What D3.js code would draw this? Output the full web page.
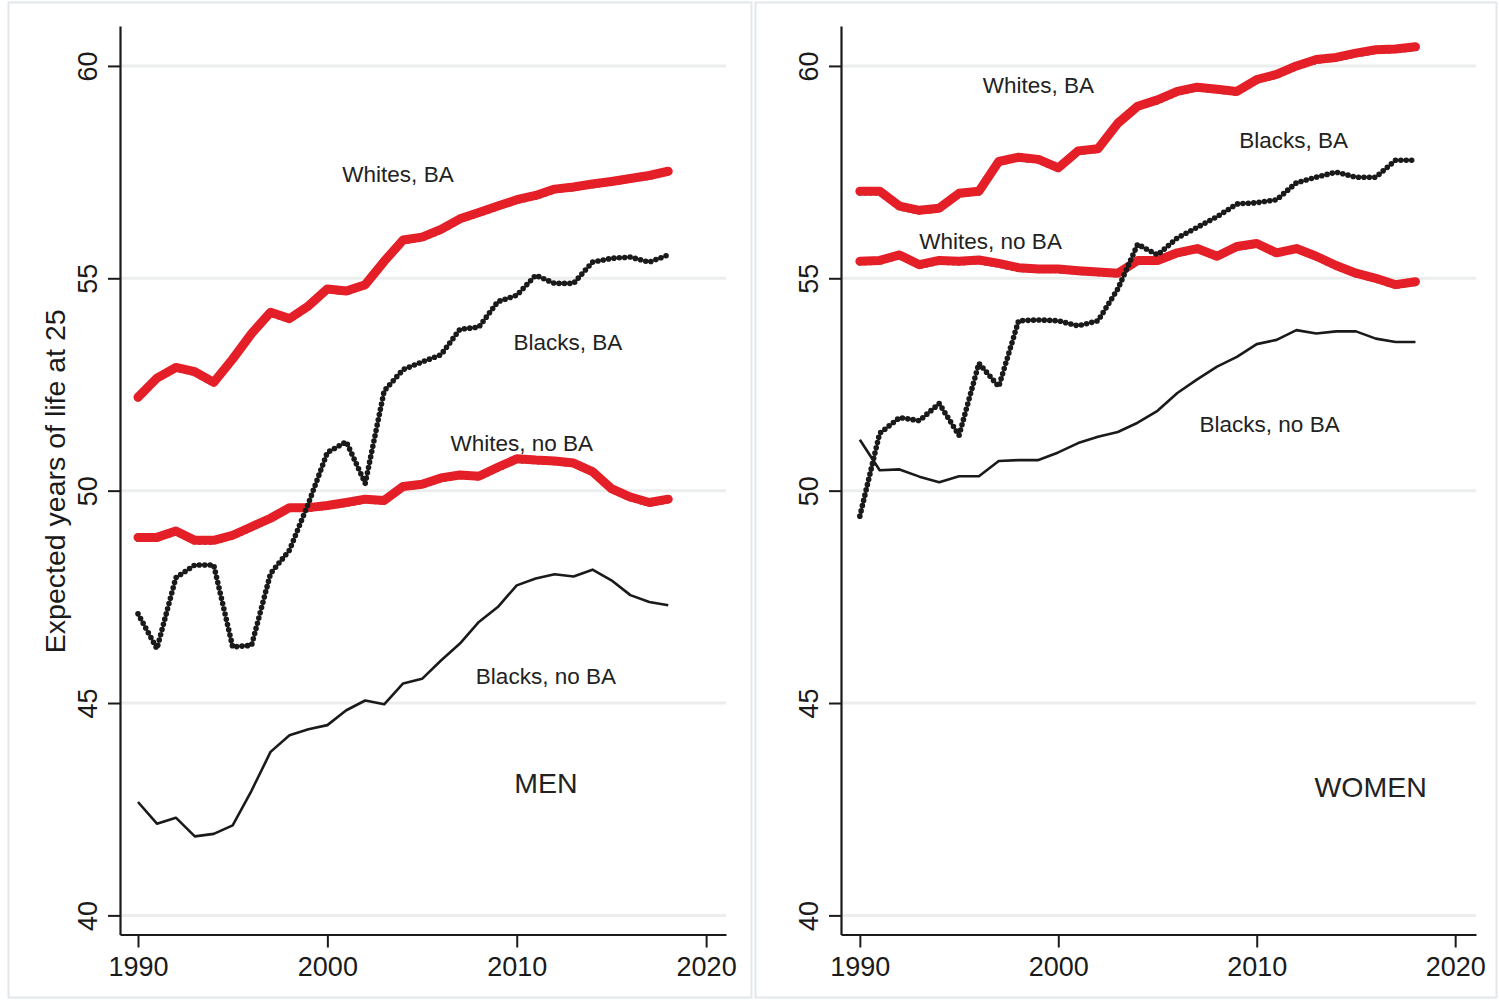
<!DOCTYPE html>
<html>
<head>
<meta charset="utf-8">
<script src="https://cdn.jsdelivr.net/npm/d3@7"></script>
<style>
  html, body { margin: 0; padding: 0; background: #fff; }
  svg { display: block; font-family: "Liberation Sans", Arial, Helvetica, sans-serif; }
</style>
</head>
<body>
<svg id="chart" width="1499" height="1001"></svg>
<script>
// Expected years of life at age 25, by race and education (BA or not), 1990-2018
const years = [1990, 1991, 1992, 1993, 1994, 1995, 1996, 1997, 1998, 1999,
               2000, 2001, 2002, 2003, 2004, 2005, 2006, 2007, 2008, 2009,
               2010, 2011, 2012, 2013, 2014, 2015, 2016, 2017, 2018];

const menWhitesBA   = [52.20, 52.65, 52.90, 52.80, 52.55, 53.10, 53.70, 54.20, 54.05, 54.35,
                       54.75, 54.70, 54.85, 55.40, 55.90, 55.97, 56.15, 56.40, 56.55, 56.70,
                       56.85, 56.95, 57.10, 57.15, 57.22, 57.28, 57.35, 57.42, 57.52];
const menBlacksBA   = [47.10, 46.28, 47.95, 48.25, 48.25, 46.32, 46.36, 48.05, 48.60, 49.70,
                       50.90, 51.15, 50.17, 52.35, 52.85, 53.03, 53.20, 53.80, 53.85, 54.45,
                       54.60, 55.07, 54.88, 54.88, 55.38, 55.47, 55.50, 55.38, 55.55];
const menWhitesNoBA = [48.90, 48.90, 49.05, 48.83, 48.83, 48.95, 49.15, 49.35, 49.60, 49.60,
                       49.65, 49.72, 49.80, 49.77, 50.10, 50.15, 50.30, 50.37, 50.34, 50.55,
                       50.75, 50.72, 50.70, 50.65, 50.45, 50.05, 49.85, 49.72, 49.80];
const menBlacksNoBA = [42.67, 42.16, 42.30, 41.86, 41.92, 42.12, 42.94, 43.85, 44.24, 44.38,
                       44.48, 44.83, 45.06, 44.97, 45.46, 45.57, 46.00, 46.40, 46.91, 47.26,
                       47.77, 47.93, 48.03, 47.98, 48.14, 47.89, 47.54, 47.38, 47.30];

const womenWhitesBA   = [57.05, 57.05, 56.70, 56.60, 56.65, 57.00, 57.05, 57.75, 57.85, 57.80,
                         57.60, 58.00, 58.05, 58.65, 59.05, 59.20, 59.40, 59.50, 59.45, 59.40,
                         59.68, 59.80, 60.00, 60.15, 60.20, 60.30, 60.38, 60.40, 60.45];
const womenBlacksBA   = [49.40, 51.35, 51.72, 51.65, 52.05, 51.30, 53.00, 52.45, 54.00, 54.02,
                         54.00, 53.88, 54.00, 54.75, 55.80, 55.55, 55.95, 56.20, 56.45, 56.75,
                         56.78, 56.85, 57.25, 57.38, 57.50, 57.38, 57.38, 57.78, 57.78];
const womenWhitesNoBA = [55.40, 55.42, 55.55, 55.32, 55.42, 55.40, 55.43, 55.35, 55.25, 55.22,
                         55.22, 55.18, 55.15, 55.12, 55.42, 55.42, 55.60, 55.70, 55.52, 55.75,
                         55.82, 55.60, 55.70, 55.52, 55.30, 55.12, 55.00, 54.85, 54.92];
const womenBlacksNoBA = [51.20, 50.48, 50.50, 50.33, 50.20, 50.34, 50.34, 50.70, 50.72, 50.72,
                         50.90, 51.12, 51.27, 51.38, 51.60, 51.88, 52.30, 52.62, 52.92, 53.15,
                         53.45, 53.55, 53.78, 53.70, 53.75, 53.75, 53.58, 53.50, 53.50];

const yTicks = [40, 45, 50, 55, 60];
const xTicks = [1990, 2000, 2010, 2020];
const yTitle = "Expected years of life at 25";

// In-plot labels, anchored in data units (year, years of life)
const menNotes = [
  { text: "Whites, BA",    year: 2003.73, value: 57.46, big: false },
  { text: "Blacks, BA",    year: 2012.70, value: 53.50, big: false },
  { text: "Whites, no BA", year: 2010.27, value: 51.12, big: false },
  { text: "Blacks, no BA", year: 2011.54, value: 45.64, big: false },
  { text: "MEN",           year: 2011.54, value: 43.12, big: true }
];
const womenNotes = [
  { text: "Whites, BA",    year: 1999.00, value: 59.55, big: false },
  { text: "Blacks, BA",    year: 2011.86, value: 58.26, big: false },
  { text: "Whites, no BA", year: 1996.59, value: 55.88, big: false },
  { text: "Blacks, no BA", year: 2010.65, value: 51.57, big: false },
  { text: "WOMEN",         year: 2015.74, value: 43.03, big: true }
];

const RED = "#e51f27";
const INK = "#1a1a1a";
const svg = d3.select("#chart");

// light frames around the two panels
svg.append("rect").attr("x", 8.5).attr("y", 2.5).attr("width", 743).attr("height", 995)
  .attr("fill", "none").attr("stroke", "#e2e7eb").attr("stroke-width", 2);
svg.append("rect").attr("x", 755.5).attr("y", 2.5).attr("width", 741).attr("height", 995)
  .attr("fill", "none").attr("stroke", "#e2e7eb").attr("stroke-width", 2);

function drawPanel(opt) {
  const x = d3.scaleLinear().domain([1989.05, 2021.05]).range([opt.left, opt.right]);
  const y = d3.scaleLinear().domain([39.55, 60.94]).range([934.5, 26]);
  const g = svg.append("g");

  // horizontal grid
  g.append("g").selectAll("line").data(yTicks).join("line")
    .attr("x1", opt.left).attr("x2", opt.right)
    .attr("y1", d => y(d)).attr("y2", d => y(d))
    .attr("stroke", "#eceeee").attr("stroke-width", 3);

  const line = d3.line().x((d, i) => x(years[i])).y(d => y(d));

  const dotted = (vals, shift) => g.append("path").datum(vals)
    .attr("d", line).attr("fill", "none").attr("stroke", INK)
    .attr("stroke-width", 5.6).attr("stroke-linecap", "round")
    .attr("stroke-dasharray", "0 5.4")
    .attr("transform", shift ? "translate(0,1.5)" : null);

  // Whites: dotted black trace under a thick red line
  [opt.whitesBA, opt.whitesNoBA].forEach(vals => {
    dotted(vals, true);
    g.append("path").datum(vals).attr("d", line).attr("fill", "none")
      .attr("stroke", RED).attr("stroke-width", 9)
      .attr("stroke-linejoin", "round").attr("stroke-linecap", "round");
  });

  // Blacks without BA: thin solid line
  g.append("path").datum(opt.blacksNoBA).attr("d", line).attr("fill", "none")
    .attr("stroke", INK).attr("stroke-width", 2.6).attr("stroke-linejoin", "round");

  // Blacks with BA: beaded dotted line
  dotted(opt.blacksBA, false);

  // y axis
  const ya = g.append("g").attr("transform", `translate(${opt.left},0)`)
    .call(d3.axisLeft(y).tickValues(yTicks).tickSize(12).tickSizeOuter(0).tickFormat(""));
  ya.select(".domain").attr("stroke", INK).attr("stroke-width", 2.2);
  ya.selectAll(".tick line").attr("stroke", INK).attr("stroke-width", 2);
  ya.selectAll(".tick").append("text")
    .attr("transform", "translate(-33,0) rotate(-90)")
    .attr("text-anchor", "middle").attr("dy", "0.36em")
    .attr("fill", INK).attr("font-size", 27)
    .text(d => d);

  // x axis
  const xa = g.append("g").attr("transform", "translate(0,934.5)")
    .call(d3.axisBottom(x).tickValues(xTicks).tickSize(13).tickSizeOuter(0).tickFormat(""));
  xa.select(".domain").attr("stroke", INK).attr("stroke-width", 2.2);
  xa.selectAll(".tick line").attr("stroke", INK).attr("stroke-width", 2);
  xa.selectAll(".tick").append("text")
    .attr("y", 32).attr("dy", "0.36em").attr("text-anchor", "middle")
    .attr("fill", INK).attr("font-size", 27)
    .text(d => d);

  // labels
  g.append("g").selectAll("text").data(opt.notes).join("text")
    .attr("x", d => x(d.year)).attr("y", d => y(d.value))
    .attr("dy", "0.36em").attr("text-anchor", "middle")
    .attr("fill", "#222").attr("font-size", d => d.big ? 28.5 : 22.5)
    .text(d => d.text);

  if (opt.title) {
    g.append("text")
      .attr("transform", `translate(55,${(y(39.55) + y(60.94)) / 2 + 1}) rotate(-90)`)
      .attr("text-anchor", "middle").attr("dy", "0.36em")
      .attr("fill", INK).attr("font-size", 28.5)
      .text(opt.title);
  }
}

drawPanel({
  left: 120, right: 726, title: yTitle, notes: menNotes,
  whitesBA: menWhitesBA, blacksBA: menBlacksBA,
  whitesNoBA: menWhitesNoBA, blacksNoBA: menBlacksNoBA
});
drawPanel({
  left: 841, right: 1476, title: null, notes: womenNotes,
  whitesBA: womenWhitesBA, blacksBA: womenBlacksBA,
  whitesNoBA: womenWhitesNoBA, blacksNoBA: womenBlacksNoBA
});
</script>
</body>
</html>
